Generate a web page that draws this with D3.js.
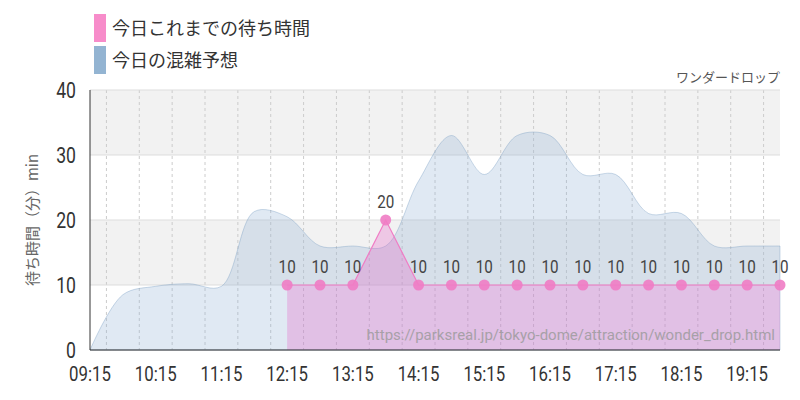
<!DOCTYPE html>
<html><head><meta charset="utf-8">
<script src="https://cdn.jsdelivr.net/npm/d3@7"></script>
<style>body{margin:0;background:#fff;font-family:"Noto Sans CJK JP",Roboto,sans-serif}</style>
</head><body><div id="chart"></div>
<script>
// forecast (blue) every 30 minutes from 09:15
var forecastTimes = ["09:15","09:45","10:15","10:45","11:15","11:45","12:15","12:45","13:15","13:45","14:15","14:45","15:15","15:45","16:15","16:45","17:15","17:45","18:15","18:45","19:15","19:45"];
var forecastWait = [0,8.5,9.8,10.2,9.8,21.3,20.5,16,16,16,26,33,27,33,33,27,27,21,21,16,16,16];
// actual waits (pink)
var actualTimes = ["12:15","12:45","13:15","13:45","14:15","14:45","15:15","15:45","16:15","16:45","17:15","17:45","18:15","18:45","19:15","19:45"];
var actualWait = [10,10,10,20,10,10,10,10,10,10,10,10,10,10,10,10];
var tickLabels = ["09:15","10:15","11:15","12:15","13:15","14:15","15:15","16:15","17:15","18:15","19:15"];
var yTicks = [0,10,20,30,40];

var parse = d3.timeParse("%H:%M");
var margin = {top: 90, right: 20, bottom: 50, left: 90},
    width = 800 - margin.left - margin.right,
    height = 400 - margin.top - margin.bottom;

var svg = d3.select("#chart").append("svg").attr("width", 800).attr("height", 400);
var g = svg.append("g").attr("transform", "translate(" + margin.left + "," + margin.top + ")");

var x = d3.scaleTime().domain([parse("09:15"), parse("19:45")]).range([0, width]);
var y = d3.scaleLinear().domain([0, 40]).range([height, 0]);

// condensed-looking text helper
function squeeze(sel, sx) {
    sel.attr("transform", function() {
        var px = +this.getAttribute("x"), py = +this.getAttribute("y");
        return "translate(" + px + "," + py + ") scale(" + sx + ",1) translate(" + (-px) + "," + (-py) + ")";
    });
}

// alternating bands
[[10,20],[30,40]].forEach(function(b) {
    g.append("rect").attr("x", 0).attr("width", width)
        .attr("y", y(b[1])).attr("height", y(b[0]) - y(b[1])).attr("fill", "#f2f2f2");
});
// grid
var halfHours = d3.timeMinute.every(30).range(parse("09:15"), parse("19:46"));
g.selectAll(".vg").data(halfHours).enter().append("line")
    .attr("x1", function(d) { return x(d); }).attr("x2", function(d) { return x(d); })
    .attr("y1", 0).attr("y2", height).attr("stroke", "#ccc").attr("stroke-dasharray", "3,3");
g.selectAll(".hg").data(yTicks).enter().append("line")
    .attr("x1", 0).attr("x2", width).attr("y1", function(d) { return y(d); }).attr("y2", function(d) { return y(d); })
    .attr("stroke", "#ddd");

// forecast area
var fData = forecastTimes.map(function(t, i) { return {t: parse(t), v: forecastWait[i]}; });
var area = d3.area().curve(d3.curveCatmullRom.alpha(0.5))
    .x(function(d) { return x(d.t); }).y0(height).y1(function(d) { return y(d.v); });
g.append("path").datum(fData).attr("d", area)
    .attr("fill", "rgba(140,175,210,0.27)").attr("stroke", "rgba(110,150,190,0.5)").attr("stroke-width", 0.7);

// actual area
var aData = actualTimes.map(function(t, i) { return {t: parse(t), v: actualWait[i]}; });
var area2 = d3.area().x(function(d) { return x(d.t); }).y0(height).y1(function(d) { return y(d.v); });
g.append("path").datum(aData).attr("d", area2).attr("fill", "rgba(230,100,200,0.3)");
g.append("path").datum(aData).attr("d", d3.line().x(function(d) { return x(d.t); }).y(function(d) { return y(d.v); }))
    .attr("fill", "none").attr("stroke", "#f07cc4").attr("stroke-width", 1.2);
g.selectAll(".dot").data(aData).enter().append("circle")
    .attr("cx", function(d) { return x(d.t); }).attr("cy", function(d) { return y(d.v); })
    .attr("r", 5.5).attr("fill", "#f07cc4").attr("opacity", 0.9);
g.selectAll(".lbl").data(aData).enter().append("text")
    .attr("x", function(d) { return x(d.t); }).attr("y", function(d) { return y(d.v) - 12; })
    .attr("text-anchor", "middle").attr("font-family", "Roboto").attr("font-size", 19).attr("fill", "#444")
    .text(function(d) { return d.v; }).call(squeeze, 0.8);

// axes
g.append("line").attr("x1", 0).attr("x2", 0).attr("y1", 0).attr("y2", height).attr("stroke", "#333");
g.append("line").attr("x1", 0).attr("x2", width).attr("y1", height).attr("y2", height).attr("stroke", "#333");
g.selectAll(".yt").data(yTicks).enter().append("text")
    .attr("x", -14).attr("y", function(d) { return y(d) + 8; }).attr("text-anchor", "end")
    .attr("font-family", "Roboto").attr("font-size", 22).attr("fill", "#333").text(function(d) { return d; })
    .call(squeeze, 0.8);
g.selectAll(".xt").data(tickLabels).enter().append("text")
    .attr("x", function(d) { return x(parse(d)); }).attr("y", height + 31).attr("text-anchor", "middle")
    .attr("font-family", "Roboto").attr("font-size", 21).attr("fill", "#333").text(function(d) { return d; })
    .call(squeeze, 0.8);

// y label
svg.append("text").attr("transform", "translate(38,220) rotate(-90)").attr("text-anchor", "middle")
    .attr("font-size", 15).attr("fill", "#666").text("待ち時間（分）min");
// title
svg.append("text").attr("x", 780).attr("y", 82).attr("text-anchor", "end")
    .attr("font-size", 13).attr("fill", "#555").text("ワンダードロップ");
// watermark
g.append("text").attr("x", width - 5).attr("y", height - 10).attr("text-anchor", "end")
    .attr("font-family", "Roboto").attr("font-size", 15).attr("fill", "#999").attr("opacity", 0.8)
    .text("https://parksreal.jp/tokyo-dome/attraction/wonder_drop.html");

// legend
var legend = [["今日これまでの待ち時間", "#f78cca"], ["今日の混雑予想", "#93b4d2"]];
legend.forEach(function(l, i) {
    svg.append("rect").attr("x", 94).attr("y", 14 + i * 32).attr("width", 12).attr("height", 28).attr("fill", l[1]);
    svg.append("text").attr("x", 112).attr("y", 35 + i * 32).attr("font-size", 18).attr("fill", "#333").text(l[0]);
});
</script></body></html>
